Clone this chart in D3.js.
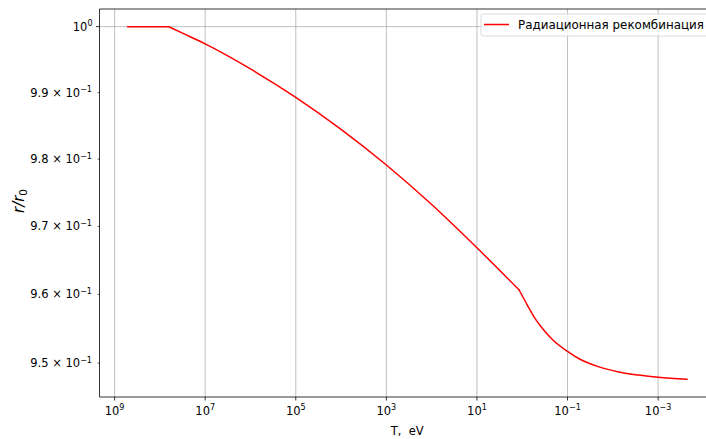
<!DOCTYPE html>
<html><head><meta charset="utf-8">
<script src="https://cdn.jsdelivr.net/npm/d3@7"></script>
<style>
body{margin:0;background:#fff;overflow:hidden}
text{font-family:"DejaVu Sans",sans-serif;fill:#000}
</style></head>
<body>
<svg id="chart" width="706" height="439"></svg>
<script>
// Data (temperature in eV, ratio r/r0)
const temperature = [5.2e8, 6.4e7, 3.0e7, 1e7, 1e6, 1e5, 1e4, 1e3, 1e2, 1e1, 1.17, 0.767, 0.501, 0.329, 0.216, 0.1, 0.0558, 0.0337, 0.0203, 0.00736, 0.00267, 0.001, 0.00023];
const ratio       = [1.0, 1.0, 0.99893, 0.99737, 0.99357, 0.98928, 0.98446, 0.97913, 0.97325, 0.96685, 0.96065, 0.95841, 0.95631, 0.95473, 0.95343, 0.95169, 0.95063, 0.94998, 0.94946, 0.94873, 0.94827, 0.94794, 0.94765];
const breakIndices = [1, 10]; // sharp corners of the curve
const xTickExps = [9, 7, 5, 3, 1, -1, -3];
const yMajorTicks = [1.0];
const yMinorTicks = [0.95, 0.96, 0.97, 0.98, 0.99];
const yMinorLabels = ["9.5", "9.6", "9.7", "9.8", "9.9"];
const seriesName = "Радиационная рекомбинация";
const xLabel = "T,\u00a0 eV";

const svg = d3.select("#chart");
const m = {left: 99.5, right: 715, top: 9, bottom: 397};
const fs = 11.5;

// log-space margins like matplotlib (5%)
const lx = temperature.map(Math.log10);
const lxMin = d3.min(lx), lxMax = d3.max(lx), dx = (lxMax - lxMin) * 0.05;
const ly = ratio.map(Math.log10);
const lyMin = d3.min(ly), lyMax = d3.max(ly), dy = (lyMax - lyMin) * 0.05;

const x = d3.scaleLog().domain([Math.pow(10, lxMax + dx), Math.pow(10, lxMin - dx)]).range([m.left, m.right]);
const y = d3.scaleLog().domain([Math.pow(10, lyMin - dy), Math.pow(10, lyMax + dy)]).range([m.bottom, m.top]);

// grid
const g = svg.append("g");
xTickExps.forEach(e => {
  const px = x(Math.pow(10, e));
  g.append("line").attr("x1", px).attr("x2", px).attr("y1", m.top).attr("y2", m.bottom)
    .attr("stroke", "#b0b0b0").attr("stroke-width", 0.8);
});
yMajorTicks.forEach(v => {
  g.append("line").attr("x1", m.left).attr("x2", m.right).attr("y1", y(v)).attr("y2", y(v))
    .attr("stroke", "#b0b0b0").attr("stroke-width", 0.8);
});

// line: smooth pieces joined at sharp corners
const pts = temperature.map((t, i) => [t, ratio[i]]);
const cuts = [0, ...breakIndices, pts.length - 1];
const lineGen = d3.line().x(d => x(d[0])).y(d => y(d[1])).curve(d3.curveMonotoneX);
for (let k = 0; k < cuts.length - 1; k++) {
  svg.append("path")
    .datum(pts.slice(cuts[k], cuts[k + 1] + 1))
    .attr("fill", "none").attr("stroke", "#ff0000").attr("stroke-width", 1.5)
    .attr("stroke-linejoin", "round").attr("stroke-linecap", "round")
    .attr("d", lineGen);
}

// spines
svg.append("line").attr("x1", m.left).attr("x2", m.left).attr("y1", m.top).attr("y2", m.bottom).attr("stroke", "#000").attr("stroke-width", 0.8);
svg.append("line").attr("x1", m.left).attr("x2", m.right).attr("y1", m.bottom).attr("y2", m.bottom).attr("stroke", "#000").attr("stroke-width", 0.8);
svg.append("line").attr("x1", m.left).attr("x2", m.right).attr("y1", m.top).attr("y2", m.top).attr("stroke", "#000").attr("stroke-width", 0.8);
svg.append("line").attr("x1", m.right).attr("x2", m.right).attr("y1", m.top).attr("y2", m.bottom).attr("stroke", "#000").attr("stroke-width", 0.8);

// x ticks
xTickExps.forEach(e => {
  const px = x(Math.pow(10, e));
  svg.append("line").attr("x1", px).attr("x2", px).attr("y1", m.bottom).attr("y2", m.bottom + 3.5).attr("stroke", "#000").attr("stroke-width", 0.8);
  const t = svg.append("text").attr("x", px).attr("y", m.bottom + 17.5).attr("text-anchor", "middle").attr("font-size", fs);
  t.append("tspan").text("10");
  t.append("tspan").attr("dy", -4.5).attr("font-size", fs * 0.7).text(e < 0 ? "\u2212" + (-e) : String(e));
});

// y major ticks
yMajorTicks.forEach(v => {
  const py = y(v);
  svg.append("line").attr("x1", m.left - 3.5).attr("x2", m.left).attr("y1", py).attr("y2", py).attr("stroke", "#000").attr("stroke-width", 0.8);
  const t = svg.append("text").attr("x", m.left - 7).attr("y", py + 4).attr("text-anchor", "end").attr("font-size", fs);
  t.append("tspan").text("10");
  t.append("tspan").attr("dy", -4.5).attr("font-size", fs * 0.7).text("0");
});
// y minor ticks with labels
yMinorTicks.forEach((v, i) => {
  const py = y(v);
  svg.append("line").attr("x1", m.left - 2).attr("x2", m.left).attr("y1", py).attr("y2", py).attr("stroke", "#000").attr("stroke-width", 0.6);
  const t = svg.append("text").attr("x", m.left - 7.5).attr("y", py + 4).attr("text-anchor", "end").attr("font-size", fs);
  t.append("tspan").text(yMinorLabels[i] + " \u00d7 10");
  t.append("tspan").attr("dy", -4.5).attr("font-size", fs * 0.7).text("\u22121");
});

// axis labels
svg.append("text").attr("x", (m.left + m.right) / 2).attr("y", 434.5).attr("text-anchor", "middle").attr("font-size", fs).text(xLabel);
const yl = svg.append("text").attr("transform", "translate(24," + 201 + ") rotate(-90)")
  .attr("text-anchor", "middle").attr("font-size", 15).attr("font-style", "italic");
yl.append("tspan").text("r/r");
yl.append("tspan").attr("dy", 3).attr("font-size", 10.5).attr("font-style", "normal").text("0");

// legend
const lg = svg.append("g");
lg.append("rect").attr("x", 481).attr("y", 14).attr("width", 229).attr("height", 22).attr("rx", 2.5)
  .attr("fill", "#fff").attr("fill-opacity", 0.8).attr("stroke", "#d0d0d0").attr("stroke-width", 0.8);
lg.append("line").attr("x1", 484).attr("x2", 509).attr("y1", 24.5).attr("y2", 24.5).attr("stroke", "#ff0000").attr("stroke-width", 1.5);
lg.append("text").attr("x", 518).attr("y", 28.5).attr("font-size", 11.9).text(seriesName);
</script>
</body></html>
